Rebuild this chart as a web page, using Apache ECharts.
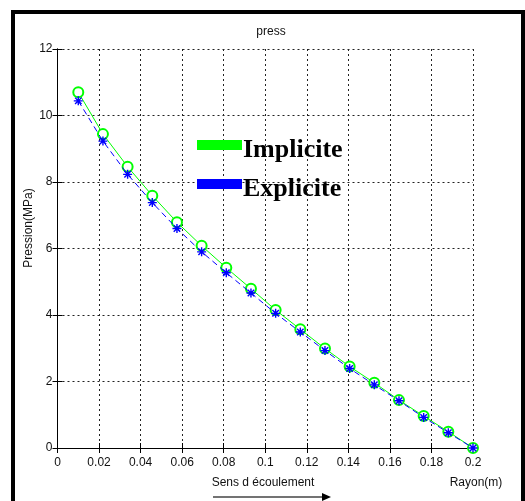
<!DOCTYPE html>
<html>
<head>
<meta charset="utf-8">
<script src="https://cdn.jsdelivr.net/npm/echarts@6/dist/echarts.min.js"></script>
<style>
  html, body { margin: 0; padding: 0; background: #fff; }
  #chart { width: 525px; height: 501px; }
</style>
</head>
<body>
<div id="chart"></div>
<script>
// Radial positions (m) along the flow
const rayon = [0.01, 0.021875, 0.03375, 0.045625, 0.0575, 0.069375, 0.08125, 0.093125,
  0.105, 0.116875, 0.12875, 0.140625, 0.1525, 0.164375, 0.17625, 0.188125, 0.2];
// Pressure (MPa), implicit scheme
const implicite = [10.70, 9.44, 8.46, 7.59, 6.79, 6.08, 5.42, 4.79, 4.15, 3.57, 2.99,
  2.45, 1.96, 1.44, 0.96, 0.49, 0];
// Pressure (MPa), explicit scheme
const explicite = [10.44, 9.23, 8.23, 7.38, 6.60, 5.90, 5.27, 4.66, 4.05, 3.49, 2.93,
  2.39, 1.90, 1.42, 0.92, 0.46, 0];

const seriesNames = ['Implicite', 'Explicite'];
const seriesColors = ['#00ff00', '#0000ff'];
const titleText = 'press';
const yTitle = 'Pression(MPa)';
const xTitle = 'Rayon(m)';
const flowText = 'Sens d écoulement';

const sans = 'Liberation Sans, Arial, sans-serif';
const serif = 'Liberation Serif, Times New Roman, serif';

// asterisk marker: vertical, horizontal and two diagonal strokes
const asterisk = 'path://M0,-5L0,5M-5,0L5,0M-3.6,-3.6L3.6,3.6M-3.6,3.6L3.6,-3.6';

const pairs = (xs, ys) => xs.map((x, i) => [x, ys[i]]);

const gridLine = { show: true, lineStyle: { color: '#222', type: [2, 3], width: 1 } };
const frameLine = { show: true, lineStyle: { color: '#000', width: 1 } };
const tickIn = { show: true, inside: true, length: 5, lineStyle: { color: '#000' } };
const tickLabel = { color: '#111', fontFamily: sans, fontSize: 12 };

const chart = echarts.init(document.getElementById('chart'), null, { renderer: 'canvas' });

chart.setOption({
  animation: false,
  backgroundColor: '#fff',
  grid: { left: 57.5, right: 52, top: 49, bottom: 53, containLabel: false },
  title: {
    text: titleText, left: 266, top: 21, textAlign: 'center',
    textStyle: { fontFamily: sans, fontSize: 12, fontWeight: 'normal', color: '#111' }
  },
  legend: {
    orient: 'vertical', left: 197, top: 127, itemGap: 3, padding: 0,
    itemWidth: 45, itemHeight: 10, icon: 'rect',
    data: seriesNames.map((name, i) => ({
      name: name,
      itemStyle: { color: seriesColors[i], borderWidth: 0 }
    })),
    formatter: '{t|{name}}',
    textStyle: {
      padding: [0, 0, 0, -4],
      rich: {
        t: { fontFamily: serif, fontSize: 26, fontWeight: 'bold', color: '#000',
          lineHeight: 26, padding: [10, 0, 0, 0] }
      }
    }
  },
  xAxis: [
    {
      type: 'value', min: 0, max: 0.2, interval: 0.02, position: 'bottom',
      axisLine: frameLine, axisTick: tickIn, splitLine: gridLine,
      axisLabel: Object.assign({ margin: 9 }, tickLabel)
    },
    {
      type: 'value', min: 0, max: 0.2, interval: 0.02, position: 'top',
      axisLine: frameLine, axisTick: tickIn, splitLine: { show: false },
      axisLabel: { show: false }
    }
  ],
  yAxis: [
    {
      type: 'value', min: 0, max: 12, interval: 2, position: 'left',
      axisLine: frameLine, axisTick: tickIn, splitLine: gridLine,
      axisLabel: Object.assign({ margin: 5 }, tickLabel)
    },
    {
      type: 'value', min: 0, max: 12, interval: 2, position: 'right',
      axisLine: frameLine, axisTick: tickIn, splitLine: { show: false },
      axisLabel: { show: false }
    }
  ],
  series: [
    {
      name: seriesNames[0], type: 'line', data: pairs(rayon, implicite),
      color: seriesColors[0],
      lineStyle: { color: seriesColors[0], width: 1 },
      symbol: 'emptyCircle', symbolSize: 10,
      itemStyle: { color: seriesColors[0], borderColor: seriesColors[0], borderWidth: 0.9 },
      z: 2
    },
    {
      name: seriesNames[1], type: 'line', data: pairs(rayon, explicite),
      color: seriesColors[1],
      lineStyle: { color: seriesColors[1], width: 1, type: [6, 4] },
      symbol: asterisk, symbolSize: 9,
      itemStyle: { color: 'none', borderColor: seriesColors[1], borderWidth: 1.4 },
      z: 3
    }
  ],
  graphic: [
    {
      type: 'text', x: 29, y: 228, rotation: Math.PI / 2,
      style: { text: yTitle, fontFamily: sans, fontSize: 12, fill: '#111',
        align: 'center', verticalAlign: 'middle' }
    },
    {
      type: 'text', x: 476, y: 483,
      style: { text: xTitle, fontFamily: sans, fontSize: 12, fill: '#111',
        align: 'center', verticalAlign: 'middle' }
    },
    {
      type: 'text', x: 263, y: 483,
      style: { text: flowText, fontFamily: sans, fontSize: 12, fill: '#111',
        align: 'center', verticalAlign: 'middle' }
    },
    {
      type: 'line', shape: { x1: 213, y1: 497, x2: 323, y2: 497 },
      style: { stroke: '#444', lineWidth: 1.5 }
    },
    {
      type: 'polygon', shape: { points: [[322, 493], [331, 497], [322, 501]] },
      style: { fill: '#000' }
    },
    {
      type: 'rect', shape: { x: 13, y: 12, width: 510, height: 530 },
      style: { fill: 'none', stroke: '#000', lineWidth: 4 }, z: 100
    }
  ]
});
</script>
</body>
</html>
